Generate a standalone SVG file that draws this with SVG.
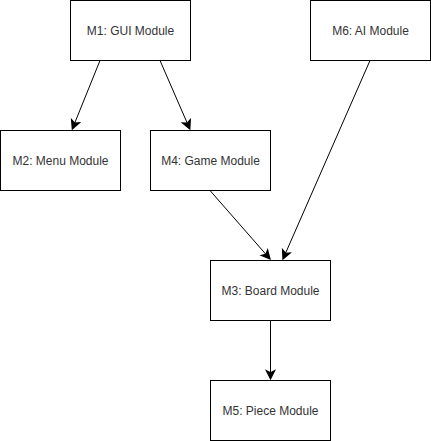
<svg xmlns="http://www.w3.org/2000/svg" width="431" height="441" viewBox="0 0 431 441">
<style>
.box{fill:#fff;stroke:#000;stroke-width:1}
.lbl{font-family:"Liberation Sans",Arial,Helvetica,sans-serif;font-size:12px;fill:#333;text-anchor:middle}
.edge{fill:none;stroke:#000;stroke-width:1}
</style>
<defs>
<marker id="arr" markerUnits="userSpaceOnUse" markerWidth="12" markerHeight="12" viewBox="-8 -5 10 10" refX="0" refY="0" orient="auto">
<path d="M0,0 L-7,-3.5 L-5.25,0 L-7,3.5 Z" fill="#000" stroke="#000" stroke-width="1"/>
</marker>
</defs>
<rect width="431" height="441" fill="#fff"/>
<g id="connectors">
<line class="edge" x1="100" y1="60.5" x2="72.3" y2="129" marker-end="url(#arr)"/>
<line class="edge" x1="160" y1="60.5" x2="189.8" y2="129" marker-end="url(#arr)"/>
<line class="edge" x1="210" y1="190.5" x2="270" y2="259" marker-end="url(#arr)"/>
<line class="edge" x1="370" y1="60.5" x2="283" y2="259" marker-end="url(#arr)"/>
<line class="edge" x1="270.5" y1="320.5" x2="270.5" y2="379" marker-end="url(#arr)"/>
</g>
<g id="M1"><rect class="box" x="70.5" y="0.5" width="120" height="60"/><text class="lbl" x="130.5" y="34.5">M1: GUI Module</text></g>
<g id="M6"><rect class="box" x="310.5" y="0.5" width="120" height="60"/><text class="lbl" x="370.5" y="34.5">M6: AI Module</text></g>
<g id="M2"><rect class="box" x="0.5" y="130.5" width="120" height="60"/><text class="lbl" x="60.5" y="164.5">M2: Menu Module</text></g>
<g id="M4"><rect class="box" x="150.5" y="130.5" width="120" height="60"/><text class="lbl" x="210.5" y="164.5">M4: Game Module</text></g>
<g id="M3"><rect class="box" x="210.5" y="260.5" width="120" height="60"/><text class="lbl" x="270.5" y="294.5">M3: Board Module</text></g>
<g id="M5"><rect class="box" x="210.5" y="380.5" width="120" height="60"/><text class="lbl" x="270.5" y="414.5">M5: Piece Module</text></g>
</svg>
